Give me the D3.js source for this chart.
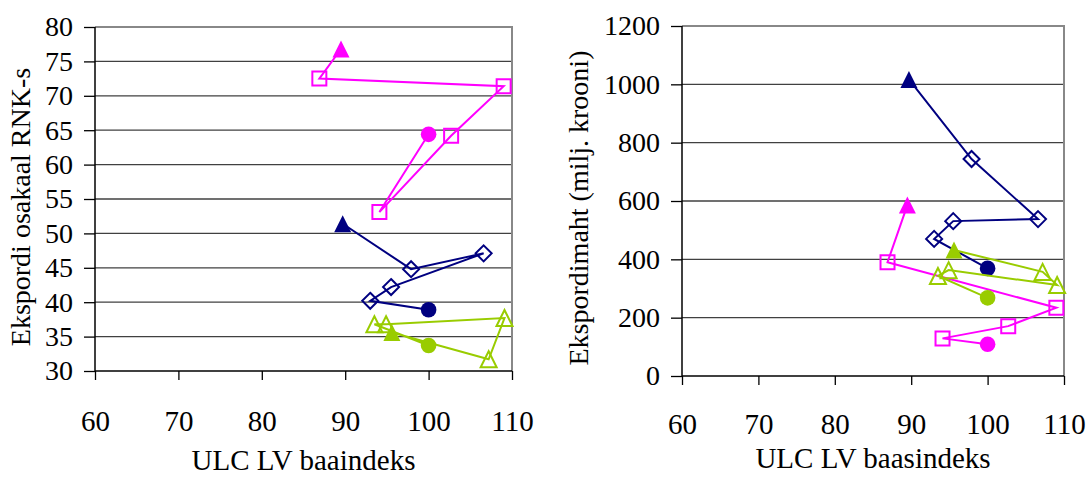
<!DOCTYPE html>
<html>
<head>
<meta charset="utf-8">
<script src="https://cdn.jsdelivr.net/npm/d3@7"></script>
<style>
  body { margin: 0; background: #fff; }
  svg text { font-family: 'Liberation Serif', Tinos, 'Times New Roman', Times, 'DejaVu Serif', serif; }
</style>
</head>
<body>
<div id="chart"></div>
<script>
// ULC index (x) for each country, same in both panels
var magentaUlc = [89.5, 86.9, 109.0, 102.7, 94.1, 100];
var navyUlc = [89.7, 97.9, 106.6, 95.5, 93.0, 100];
var greenUlc = [95.6, 107.2, 109.1, 94.9, 93.5, 100];

// left panel: export share
var magentaShare = [76.8, 72.5, 71.4, 64.2, 53.1, 64.4];
var navyShare = [51.4, 44.8, 47.1, 42.2, 40.2, 38.9];
var greenShare = [35.6, 31.7, 37.7, 36.8, 36.8, 33.7];

// right panel: export volume
var magentaVolume = [586, 390, 234, 171, 129, 109];
var navyVolume = [1017, 744, 538, 531, 470, 369];
var greenVolume = [432, 357, 312, 363, 343, 268];

var xTicks = [60, 70, 80, 90, 100, 110];
var shareTicks = [30, 35, 40, 45, 50, 55, 60, 65, 70, 75, 80];
var volumeTicks = [0, 200, 400, 600, 800, 1000, 1200];

var colors = { magenta: '#ff00ff', navy: '#000080', green: '#99cc00' };

var width = 1089, height = 477;
var svg = d3.select('#chart').append('svg')
    .attr('width', width)
    .attr('height', height);
svg.append('rect').attr('width', width).attr('height', height).attr('fill', '#fff');

function panel(opt) {
    var x = d3.scaleLinear().domain([60, 110]).range([opt.left, opt.right]);
    var y = d3.scaleLinear().domain(opt.yDomain).range([opt.bottom, opt.top]);
    var g = svg.append('g');

    // gridlines
    g.selectAll('.grid')
        .data(opt.yTicks.slice(1, -1))
        .enter().append('line')
        .attr('x1', opt.left).attr('x2', opt.right)
        .attr('y1', function (d) { return y(d); })
        .attr('y2', function (d) { return y(d); })
        .attr('stroke', '#404040').attr('stroke-width', 1.3);

    // plot border top/right
    g.append('path')
        .attr('d', 'M' + opt.left + ',' + opt.top + 'H' + opt.right + 'V' + opt.bottom)
        .attr('fill', 'none').attr('stroke', '#888').attr('stroke-width', 2);

    // axes
    var yAxis = d3.axisLeft(y).tickValues(opt.yTicks).tickFormat(d3.format('d'))
        .tickSize(11).tickPadding(11);
    var xAxis = d3.axisBottom(x).tickValues(xTicks).tickFormat(d3.format('d'))
        .tickSize(9).tickPadding(opt.xPad);
    var ya = g.append('g').attr('transform', 'translate(' + opt.left + ',0)').call(yAxis);
    var xa = g.append('g').attr('transform', 'translate(0,' + opt.bottom + ')').call(xAxis);
    ya.attr('font-family', null).attr('font-size', 28);
    xa.attr('font-family', null).attr('font-size', 29);
    [ya, xa].forEach(function (a) {
        a.select('.domain').attr('stroke', '#000').attr('stroke-width', 1.5);
        a.selectAll('.tick line').attr('stroke', '#000').attr('stroke-width', 1.3);
        a.selectAll('.tick text').attr('fill', '#000');
    });
    ya.select('.domain').attr('d', 'M0,' + opt.top + 'V' + opt.bottom);
    xa.select('.domain').attr('d', 'M' + opt.left + ',0H' + opt.right);

    // axis titles
    g.append('text')
        .attr('x', (opt.left + opt.right) / 2).attr('y', opt.xTitleY)
        .attr('text-anchor', 'middle').attr('font-size', 29)
        .text(opt.xTitle);
    g.append('text')
        .attr('transform', 'translate(' + opt.yTitleX + ',' + opt.yTitleY + ') rotate(-90)')
        .attr('text-anchor', 'middle').attr('font-size', 28)
        .text(opt.yTitle);

    var line = d3.line()
        .x(function (d) { return x(d[0]); })
        .y(function (d) { return y(d[1]); });

    opt.series.forEach(function (s) {
        var pts = d3.zip(s.ulc, s.vals);
        var c = colors[s.color];
        g.append('path').datum(pts)
            .attr('d', line).attr('fill', 'none')
            .attr('stroke', c).attr('stroke-width', 2);

        // open markers for the middle years
        var mid = pts.slice(1, -1);
        var m = g.selectAll(null).data(mid).enter().append('path')
            .attr('transform', function (d) { return 'translate(' + x(d[0]) + ',' + y(d[1]) + ')'; })
            .attr('fill', 'none').attr('stroke', c).attr('stroke-width', 2);
        if (s.marker === 'square') m.attr('d', 'M-7,-7H7V7H-7Z');
        if (s.marker === 'diamond') m.attr('d', 'M0,-8L8,0L0,8L-8,0Z');
        if (s.marker === 'triangle') m.attr('d', 'M0,-8L8,8H-8Z');

        // first year filled triangle, base year filled circle
        var first = pts[0], last = pts[pts.length - 1];
        g.append('path')
            .attr('transform', 'translate(' + x(first[0]) + ',' + y(first[1]) + ')')
            .attr('d', 'M0,-8.5L8.5,8.5H-8.5Z').attr('fill', c);
        g.append('circle')
            .attr('cx', x(last[0])).attr('cy', y(last[1]))
            .attr('r', 7.8).attr('fill', c);
    });
}

panel({
    left: 95, right: 512, top: 27, bottom: 371,
    yDomain: [30, 80], yTicks: shareTicks, xPad: 30,
    xTitle: 'ULC LV baaindeks', xTitleY: 470,
    yTitle: 'Ekspordi osakaal RNK-s', yTitleX: 30, yTitleY: 207,
    series: [
        { ulc: magentaUlc, vals: magentaShare, color: 'magenta', marker: 'square' },
        { ulc: navyUlc, vals: navyShare, color: 'navy', marker: 'diamond' },
        { ulc: greenUlc, vals: greenShare, color: 'green', marker: 'triangle' }
    ]
});

panel({
    left: 682, right: 1064, top: 26, bottom: 376,
    yDomain: [0, 1200], yTicks: volumeTicks, xPad: 28,
    xTitle: 'ULC LV baasindeks', xTitleY: 468,
    yTitle: 'Ekspordimaht (milj. krooni)', yTitleX: 588, yTitleY: 208,
    series: [
        { ulc: magentaUlc, vals: magentaVolume, color: 'magenta', marker: 'square' },
        { ulc: navyUlc, vals: navyVolume, color: 'navy', marker: 'diamond' },
        { ulc: greenUlc, vals: greenVolume, color: 'green', marker: 'triangle' }
    ]
});
</script>
</body>
</html>
